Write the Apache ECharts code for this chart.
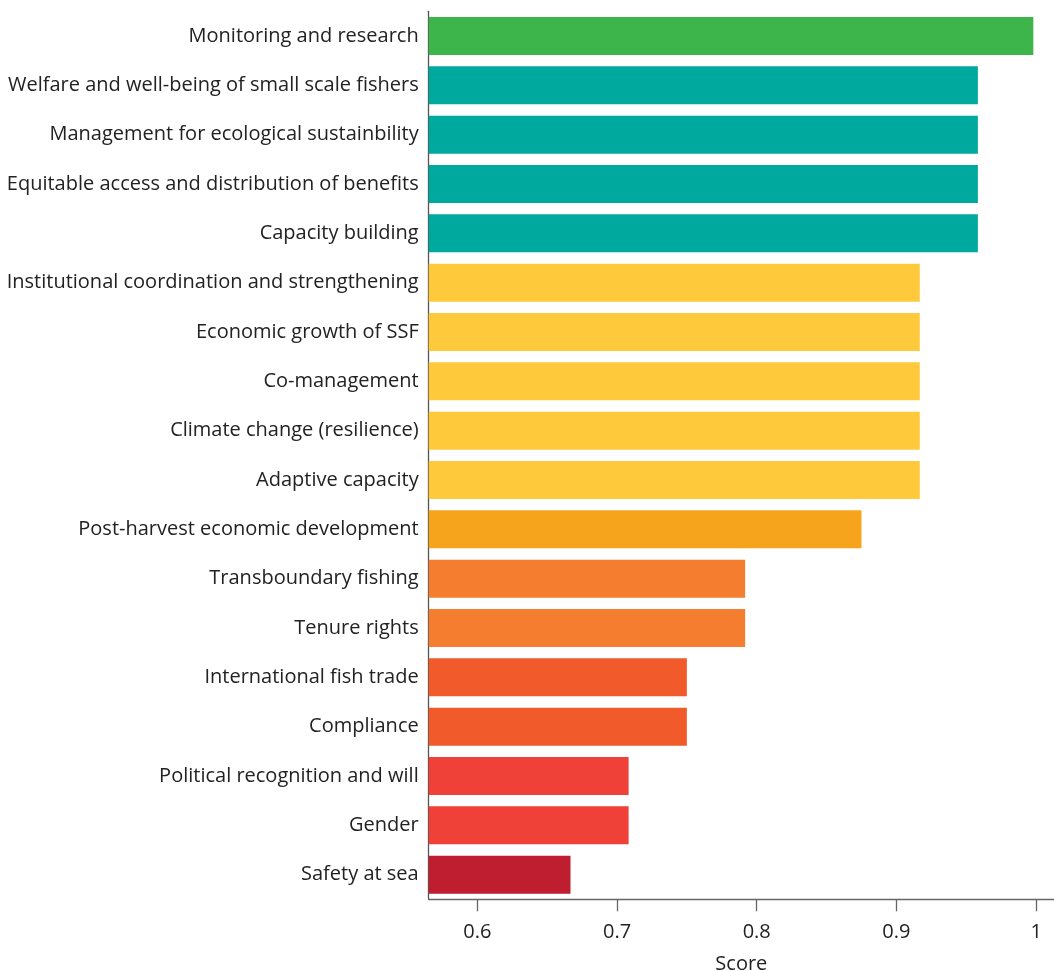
<!DOCTYPE html>
<html><head><meta charset="utf-8">
<script src="https://cdn.jsdelivr.net/npm/echarts@6/dist/echarts.min.js"></script>
<style>html,body{margin:0;padding:0;background:#fff}#c{width:1054px;height:971px}</style>
</head><body><div id="c"></div>
<script>
const categories = [
  "Monitoring and research",
  "Welfare and well-being of small scale fishers",
  "Management for ecological sustainbility",
  "Equitable access and distribution of benefits",
  "Capacity building",
  "Institutional coordination and strengthening",
  "Economic growth of SSF",
  "Co-management",
  "Climate change (resilience)",
  "Adaptive capacity",
  "Post-harvest economic development",
  "Transboundary fishing",
  "Tenure rights",
  "International fish trade",
  "Compliance",
  "Political recognition and will",
  "Gender",
  "Safety at sea"
];
const scores = [0.998, 0.9583, 0.9583, 0.9583, 0.9583, 0.9167, 0.9167, 0.9167, 0.9167, 0.9167,
  0.875, 0.7917, 0.7917, 0.75, 0.75, 0.7083, 0.7083, 0.6667];
const barColors = ["#3db54a", "#00a99d", "#00a99d", "#00a99d", "#00a99d",
  "#fec93a", "#fec93a", "#fec93a", "#fec93a", "#fec93a",
  "#f7a41d", "#f47d2f", "#f47d2f", "#f15a2b", "#f15a2b", "#ef4137", "#ef4137", "#be1e2f"];
const xTicks = [0.6, 0.7, 0.8, 0.9, 1];

const chart = echarts.init(document.getElementById('c'));
chart.setOption({
  animation: false,
  grid: {left: 428.7, right: 0, top: 11.3, bottom: 71.7, containLabel: false, outerBoundsMode: 'none'},
  xAxis: {
    type: 'value', min: 0.5652, max: 1.0128,
    name: 'Score', nameLocation: 'middle', nameGap: 55,
    nameTextStyle: {fontFamily: 'Open Sans', fontSize: 20, color: '#222'},
    splitLine: {show: false},
    axisLine: {show: true, lineStyle: {color: '#666', width: 1.3}},
    axisTick: {show: true, length: 12, lineStyle: {color: '#666', width: 1.3},
      customValues: xTicks},
    axisLabel: {fontFamily: 'Open Sans', fontSize: 20, color: '#222', margin: 23,
      customValues: xTicks, formatter: v => String(v)}
  },
  yAxis: {
    type: 'category', data: categories, inverse: true,
    axisLine: {show: true, lineStyle: {color: '#555', width: 1.3}},
    axisTick: {show: false},
    axisLabel: {fontFamily: 'Open Sans', fontSize: 20, color: '#222', margin: 10,
      padding: [8, 0, 0, 0]}
  },
  series: [{
    type: 'bar', barWidth: 38,
    data: scores.map((v, i) => ({value: v, itemStyle: {color: barColors[i]}}))
  }]
});
</script></body></html>
